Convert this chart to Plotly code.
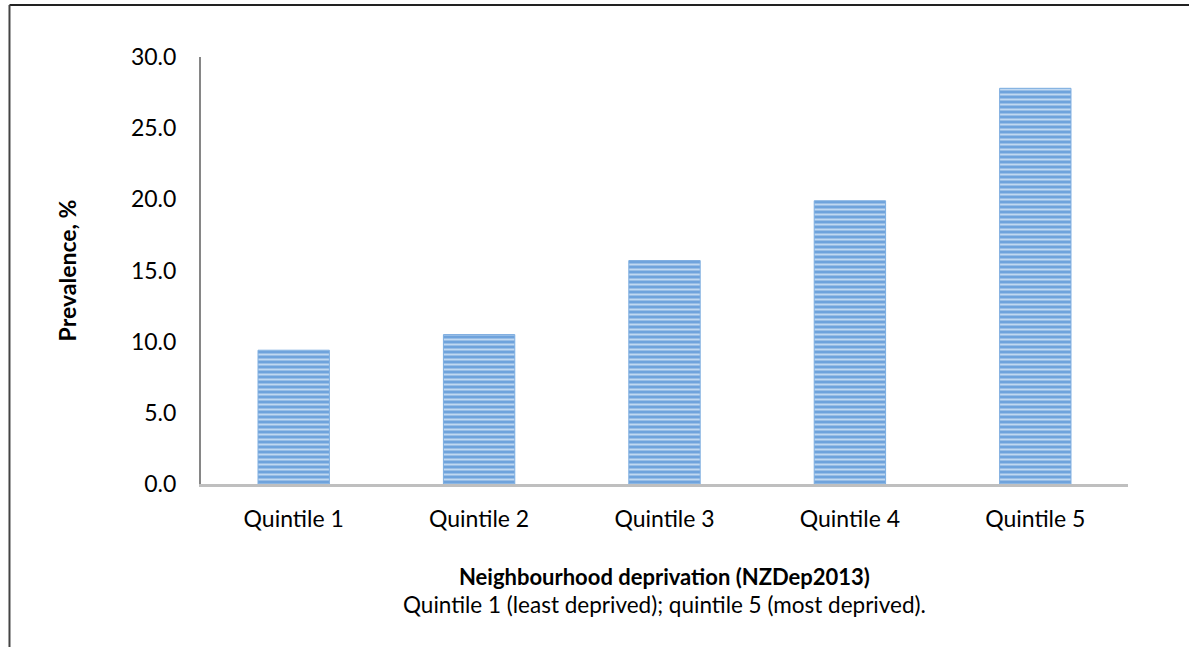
import plotly.graph_objects as go

# Prevalence by neighbourhood deprivation quintile (NZDep2013)
quintiles = ["Quintile 1", "Quintile 2", "Quintile 3", "Quintile 4", "Quintile 5"]
prevalence = [9.4, 10.5, 15.7, 19.9, 27.8]
y_ticks = [0, 5, 10, 15, 20, 25, 30]
y_tick_labels = ["0.0", "5.0", "10.0", "15.0", "20.0", "25.0", "30.0"]

FONT = "Lato, 'Open Sans', sans-serif"

fig = go.Figure()
fig.add_trace(go.Bar(
    x=quintiles,
    y=prevalence,
    width=0.385,
    marker=dict(
        color="#6fa3dc",
        line=dict(color="#7eaee0", width=1),
        pattern=dict(shape="-", size=5, solidity=0.4,
                     fgcolor="#c0d8f1", bgcolor="#6fa3dc", fillmode="replace"),
    ),
    hoverinfo="x+y",
))

fig.update_layout(
    width=1189, height=647,
    margin=dict(l=201, r=61, t=57, b=163),
    paper_bgcolor="white", plot_bgcolor="white",
    showlegend=False,
    font=dict(family=FONT, color="#000000", size=23),
    xaxis=dict(
        showline=True, linecolor="#bfbfbf", linewidth=3,
        ticks="", tickfont=dict(size=23, family=FONT, color="#000000"),
        ticklabelstandoff=12,
        showgrid=False, zeroline=False,
    ),
    yaxis=dict(
        range=[0, 30],
        tickvals=y_ticks, ticktext=y_tick_labels,
        showline=True, linecolor="#868686", linewidth=2,
        ticks="", tickfont=dict(size=23, family=FONT, color="#000000"),
        ticklabelstandoff=18,
        showgrid=False, zeroline=False,
        title=dict(text="<b>Prevalence, %</b>", font=dict(size=23, family=FONT),
                   standoff=48),
    ),
    annotations=[
        dict(text="<b>Neighbourhood deprivation (NZDep2013)</b>",
             xref="paper", yref="paper", x=0.5, y=-0.217,
             xanchor="center", yanchor="middle", showarrow=False,
             font=dict(size=22, family=FONT)),
        dict(text="Quintile 1 (least deprived); quintile 5 (most deprived).",
             xref="paper", yref="paper", x=0.5, y=-0.283,
             xanchor="center", yanchor="middle", showarrow=False,
             font=dict(size=22.5, family=FONT)),
    ],
    shapes=[
        # outer frame: top and left edges
        dict(type="line", xref="paper", yref="paper",
             x0=-0.2066, x1=1.07, y0=1.1218, y1=1.1218,
             line=dict(color="#222222", width=2)),
        dict(type="line", xref="paper", yref="paper",
             x0=-0.2066, x1=-0.2066, y0=1.1218, y1=-0.39,
             line=dict(color="#444444", width=2)),
    ],
)

fig.write_html("out.html")
